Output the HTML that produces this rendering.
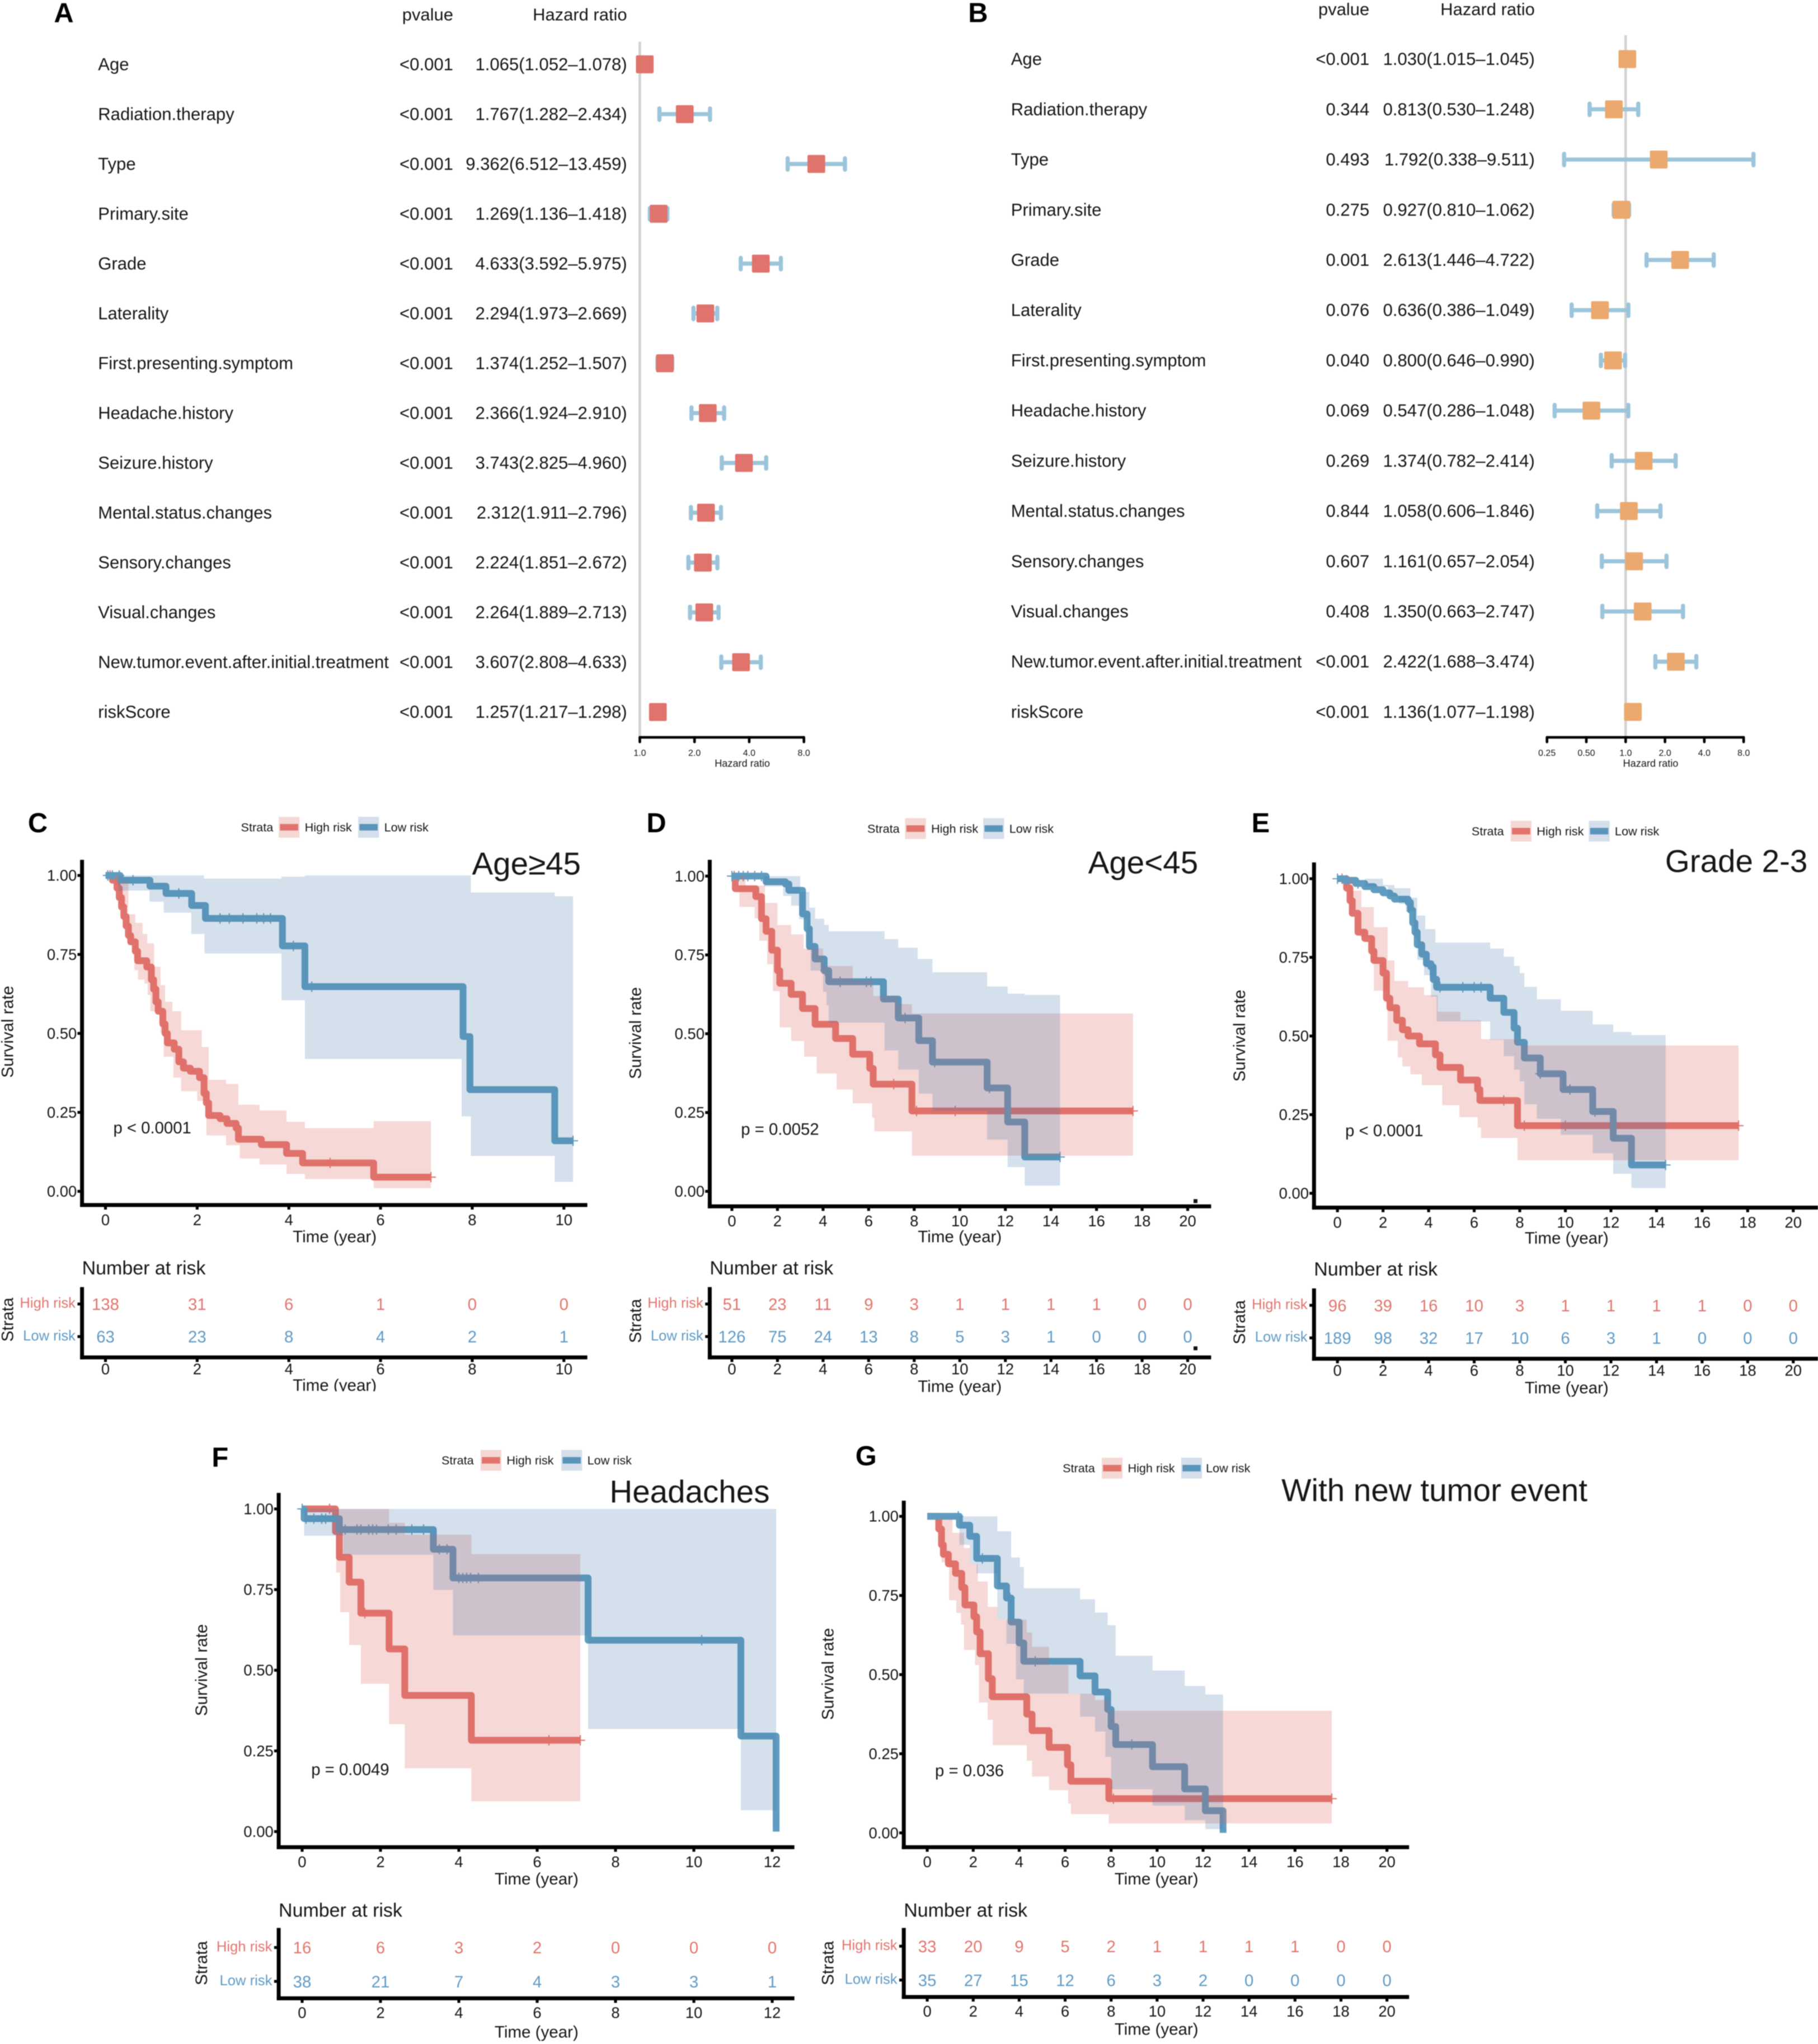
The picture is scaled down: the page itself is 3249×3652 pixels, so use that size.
<!DOCTYPE html>
<html lang="en">
<head>
<meta charset="utf-8">
<title>Forest plots and Kaplan-Meier survival curves</title>
<style>
html,body{margin:0;padding:0;background:#fff}
svg{display:block;filter:blur(.7px)}
text{font-family:"Liberation Sans",Arial,sans-serif;fill:#161616;dominant-baseline:central}
.letter{font-size:21px;font-weight:bold;fill:#000;text-anchor:middle}
.f{font-size:13.3px}
.r{text-anchor:end}
.m{text-anchor:middle}
.lg{font-size:9.3px}
.ttl{font-size:24.3px}
.pv{font-size:12.6px}
.al{font-size:12.7px;text-anchor:middle}
.nar{font-size:14.6px}
</style>
</head>
<body>
<svg id="figure" xmlns="http://www.w3.org/2000/svg" width="3249" height="3652" viewBox="0 0 1396 1569">
<rect x="0" y="0" width="1396" height="1569" fill="#fff"/>

<text class="letter" x="49" y="10">A</text>
<text class="f r" x="348" y="11">pvalue</text>
<text class="f r" x="481.5" y="11">Hazard ratio</text>
<g id="forestA"></g>

<text class="letter" x="751" y="10">B</text>
<text class="f r" x="1051.5" y="7">pvalue</text>
<text class="f r" x="1178.5" y="7">Hazard ratio</text>
<g id="forestB"></g>

<!-- Panel C -->
<text class="letter" x="29" y="632">C</text>
<g id="panelC"></g>
<text class="ttl r" x="446" y="663">Age≥45</text>
<text class="pv" x="87" y="866">p &lt; 0.0001</text>
<text class="al" x="257" y="949.5">Time (year)</text>
<text class="al" transform="translate(6 792) rotate(-90)">Survival rate</text>
<text class="nar" x="63" y="973.5">Number at risk</text>
<text class="al" transform="translate(6 1013) rotate(-90)">Strata</text>
<text class="al" x="257" y="1063.5">Time (year)</text>
<rect x="215" y="1068" width="85" height="10" fill="#fff"/>
<g>
<text class="lg" x="185" y="635">Strata</text>
<rect x="214" y="627" width="16" height="16" fill="#f5d8d4"/>
<rect x="215" y="632.5" width="14" height="5" fill="#e0736b"/>
<text class="lg" x="234" y="635">High risk</text>
<rect x="275" y="627" width="16" height="16" fill="#d4dfeb"/>
<rect x="276" y="632.5" width="14" height="5" fill="#5b94bb"/>
<text class="lg" x="295" y="635">Low risk</text>
</g>

<!-- Panel D -->
<text class="letter" x="504" y="632">D</text>
<g id="panelD"></g>
<text class="ttl r" x="920" y="662">Age&lt;45</text>
<text class="pv" x="569" y="867">p = 0.0052</text>
<text class="al" x="737" y="949.5">Time (year)</text>
<text class="al" transform="translate(488 793) rotate(-90)">Survival rate</text>
<text class="nar" x="545" y="973.5">Number at risk</text>
<text class="al" transform="translate(488 1014) rotate(-90)">Strata</text>
<text class="al" x="737" y="1064.5">Time (year)</text>
<rect x="916.5" y="920.5" width="3" height="3" fill="#111"/>
<rect x="916.5" y="1033.5" width="3" height="3" fill="#111"/>
<g>
<text class="lg" x="666" y="636">Strata</text>
<rect x="695" y="628" width="16" height="16" fill="#f5d8d4"/>
<rect x="696" y="633.5" width="14" height="5" fill="#e0736b"/>
<text class="lg" x="715" y="636">High risk</text>
<rect x="755" y="628" width="16" height="16" fill="#d4dfeb"/>
<rect x="756" y="633.5" width="14" height="5" fill="#5b94bb"/>
<text class="lg" x="775" y="636">Low risk</text>
</g>

<!-- Panel E -->
<text class="letter" x="968" y="632">E</text>
<g id="panelE"></g>
<text class="ttl r" x="1388" y="661">Grade 2-3</text>
<text class="pv" x="1033" y="868">p &lt; 0.0001</text>
<text class="al" x="1203" y="950.5">Time (year)</text>
<text class="al" transform="translate(952 795) rotate(-90)">Survival rate</text>
<text class="nar" x="1009" y="974.5">Number at risk</text>
<text class="al" transform="translate(952 1015) rotate(-90)">Strata</text>
<text class="al" x="1203" y="1065.5">Time (year)</text>
<g>
<text class="lg" x="1130" y="638">Strata</text>
<rect x="1160" y="630" width="16" height="16" fill="#f5d8d4"/>
<rect x="1161" y="635.5" width="14" height="5" fill="#e0736b"/>
<text class="lg" x="1180" y="638">High risk</text>
<rect x="1220" y="630" width="16" height="16" fill="#d4dfeb"/>
<rect x="1221" y="635.5" width="14" height="5" fill="#5b94bb"/>
<text class="lg" x="1240" y="638">Low risk</text>
</g>

<!-- Panel F -->
<text class="letter" x="169" y="1119">F</text>
<g id="panelF"></g>
<text class="ttl r" x="591" y="1145">Headaches</text>
<text class="pv" x="239" y="1358.5">p = 0.0049</text>
<text class="al" x="412" y="1442.5">Time (year)</text>
<text class="al" transform="translate(155 1282) rotate(-90)">Survival rate</text>
<text class="nar" x="214" y="1466.5">Number at risk</text>
<text class="al" transform="translate(155 1507) rotate(-90)">Strata</text>
<text class="al" x="412" y="1560">Time (year)</text>
<g>
<text class="lg" x="339" y="1121">Strata</text>
<rect x="369" y="1113" width="16" height="16" fill="#f5d8d4"/>
<rect x="370" y="1118.5" width="14" height="5" fill="#e0736b"/>
<text class="lg" x="389" y="1121">High risk</text>
<rect x="431" y="1113" width="16" height="16" fill="#d4dfeb"/>
<rect x="432" y="1118.5" width="14" height="5" fill="#5b94bb"/>
<text class="lg" x="451" y="1121">Low risk</text>
</g>

<!-- Panel G -->
<text class="letter" x="665" y="1118">G</text>
<g id="panelG"></g>
<text class="ttl" x="984" y="1144">With new tumor event</text>
<text class="pv" x="718" y="1359.5">p = 0.036</text>
<text class="al" x="888" y="1442.5">Time (year)</text>
<text class="al" transform="translate(636 1285) rotate(-90)">Survival rate</text>
<text class="nar" x="694" y="1466.5">Number at risk</text>
<text class="al" transform="translate(636 1507) rotate(-90)">Strata</text>
<text class="al" x="888" y="1558">Time (year)</text>
<g>
<text class="lg" x="816" y="1127">Strata</text>
<rect x="846" y="1119" width="16" height="16" fill="#f5d8d4"/>
<rect x="847" y="1124.5" width="14" height="5" fill="#e0736b"/>
<text class="lg" x="866" y="1127">High risk</text>
<rect x="907" y="1119" width="16" height="16" fill="#d4dfeb"/>
<rect x="908" y="1124.5" width="14" height="5" fill="#5b94bb"/>
<text class="lg" x="926" y="1127">Low risk</text>
</g>
</svg>

<script>
/* ---------- Forest plot data ---------- */
const forestVariables = ['Age','Radiation.therapy','Type','Primary.site','Grade','Laterality','First.presenting.symptom','Headache.history','Seizure.history','Mental.status.changes','Sensory.changes','Visual.changes','New.tumor.event.after.initial.treatment','riskScore'];

const forestAP = ['<0.001','<0.001','<0.001','<0.001','<0.001','<0.001','<0.001','<0.001','<0.001','<0.001','<0.001','<0.001','<0.001','<0.001'];
const forestAHR = [1.065,1.767,9.362,1.269,4.633,2.294,1.374,2.366,3.743,2.312,2.224,2.264,3.607,1.257];
const forestALow = [1.052,1.282,6.512,1.136,3.592,1.973,1.252,1.924,2.825,1.911,1.851,1.889,2.808,1.217];
const forestAHigh = [1.078,2.434,13.459,1.418,5.975,2.669,1.507,2.910,4.960,2.796,2.672,2.713,4.633,1.298];
const forestATicks = ['1.0','2.0','4.0','8.0'];

const forestBP = ['<0.001','0.344','0.493','0.275','0.001','0.076','0.040','0.069','0.269','0.844','0.607','0.408','<0.001','<0.001'];
const forestBHR = [1.030,0.813,1.792,0.927,2.613,0.636,0.800,0.547,1.374,1.058,1.161,1.350,2.422,1.136];
const forestBLow = [1.015,0.530,0.338,0.810,1.446,0.386,0.646,0.286,0.782,0.606,0.657,0.663,1.688,1.077];
const forestBHigh = [1.045,1.248,9.511,1.062,4.722,1.049,0.990,1.048,2.414,1.846,2.054,2.747,3.474,1.198];
const forestBTicks = ['0.25','0.50','1.0','2.0','4.0','8.0'];

/* ---------- Kaplan-Meier shared axis labels ---------- */
const survivalTicks = ['1.00','0.75','0.50','0.25','0.00'];

/* ---------- Panel C ---------- */
const cTimeTicks = [0,2,4,6,8,10];
const cRiskHigh = [138,31,6,1,0,0];
const cRiskLow = [63,23,8,4,2,1];
const cHighT = [0,.15,.25,.3,.35,.4,.45,.5,.55,.65,.7,.9,1,1.05,1.1,1.15,1.25,1.3,1.35,1.5,1.6,1.7,1.85,2.05,2.15,2.2,2.25,2.5,2.65,2.85,2.9,3.4,3.95,4.3,5.85,7.1];
const cHighS = [1,.985,.96,.93,.9,.87,.84,.81,.79,.76,.73,.71,.67,.64,.6,.57,.53,.5,.47,.45,.41,.39,.38,.36,.31,.28,.24,.23,.215,.2,.165,.148,.12,.09,.045,.045];
const cHighUpT = [0,.3,.5,.65,.81,.91,1.06,1.2,1.3,1.46,1.65,2.1,2.25,2.63,2.9,3.36,3.95,4.35,5.85,7.1];
const cHighUp = [1,.98,.877,.85,.815,.785,.711,.653,.6,.57,.51,.457,.353,.34,.274,.256,.22,.2,.222,.222];
const cHighLoT = [0,.2,.3,.49,.63,.71,.85,.92,.98,1.2,1.27,1.48,1.65,2,2.2,2.63,2.93,3.36,3.95,4.35,5.85,7.1];
const cHighLo = [1,.97,.9,.78,.7,.67,.658,.622,.57,.5,.426,.36,.317,.286,.177,.146,.104,.085,.055,.039,.01,.01];
const cHighCensor = [.1,4.9,7.1];
const cLowT = [0,.32,.97,1.32,1.88,2.18,3.86,4.35,7.8,7.95,9.8,10.2];
const cLowS = [1,.985,.966,.943,.905,.864,.777,.648,.49,.322,.16,.16];
const cLowUpT = [0,2.15,3.84,4.35,7.97,9.8,10.2];
const cLowUp = [1,.99,.996,1,.946,.934,.934];
const cLowLoT = [0,.28,.96,1.27,1.87,2.16,3.84,4.35,7.77,7.97,9.8,10.2];
const cLowLo = [1,.952,.917,.882,.815,.753,.605,.419,.237,.112,.03,.03];
const cLowCensor = [.05,.15,.3,.6,1.6,2.5,2.7,3,3.3,3.45,3.6,4.1,4.5,10.2];

/* ---------- Panel D ---------- */
const dTimeTicks = [0,2,4,6,8,10,12,14,16,18,20];
const dRiskHigh = [51,23,11,9,3,1,1,1,1,0,0];
const dRiskLow = [126,75,24,13,8,5,3,1,0,0,0];
const dHighT = [0,.15,1.05,1.3,1.5,1.75,2,2.1,2.6,3.1,3.65,4.55,5.3,6.05,6.2,7.9,17.6];
const dHighS = [1,.96,.935,.865,.825,.765,.7,.66,.625,.58,.53,.485,.435,.39,.34,.255,.255];
const dHighUpT = [0,.6,1.45,2,2.6,3.15,4,5.3,6.2,7.25,7.9,17.6];
const dHighUp = [1,.97,.915,.845,.815,.77,.715,.67,.62,.594,.564,.564];
const dHighLoT = [0,.33,1,1.2,1.55,1.8,2.1,2.6,3.17,3.72,4.6,5.3,6.15,6.25,7.9,17.6];
const dHighLo = [1,.902,.866,.795,.72,.635,.52,.477,.427,.374,.323,.279,.234,.19,.113,.113];
const dHighCensor = [.1,7.1,8.1,9.8,17.6];
const dLowT = [0,1.5,2.35,2.5,3.1,3.3,3.4,3.65,4.05,4.25,6.65,7.3,8.2,8.8,11.2,12.1,12.85,14.4];
const dLowS = [1,.982,.975,.955,.88,.833,.777,.737,.7,.665,.61,.55,.478,.41,.328,.22,.109,.109];
const dLowUpT = [0,3,3.4,3.65,4.05,4.25,6.7,7.3,8.15,8.8,11.2,12.1,12.85,14.4];
const dLowUp = [1,.95,.9,.865,.845,.825,.8,.773,.737,.695,.65,.627,.623,.623];
const dLowLoT = [0,1.4,2.25,2.6,2.95,3.3,3.45,4,4.15,4.25,6.7,7.3,8.2,8.8,11.2,12.1,12.85,14.4];
const dLowLo = [1,.967,.937,.906,.863,.765,.7,.633,.59,.535,.447,.386,.31,.255,.164,.077,.018,.018];
const dLowCensor = [0,.3,.5,.7,1,1.3,4.1,4.75,5.9,6.1,7.6,8.9,11.3,14.4];

/* ---------- Panel E ---------- */
const eTimeTicks = [0,2,4,6,8,10,12,14,16,18,20];
const eRiskHigh = [96,39,16,10,3,1,1,1,1,0,0];
const eRiskLow = [189,98,32,17,10,6,3,1,0,0,0];
const eHighT = [0,.4,.55,.65,.9,1.2,1.5,1.6,2,2.15,2.3,2.6,2.85,3.1,3.6,4.3,4.5,5.4,6.15,6.25,7.9,17.6];
const eHighS = [1,.97,.93,.89,.83,.81,.77,.74,.7,.62,.59,.55,.52,.5,.475,.44,.4,.36,.33,.295,.215,.215];
const eHighUpT = [0,.65,1.05,1.6,2.2,2.5,3.1,3.8,4.4,5.4,6.3,7.9,17.6];
const eHighUp = [1,.962,.91,.846,.74,.675,.655,.63,.577,.55,.49,.47,.47];
const eHighLoT = [0,.55,1,1.45,1.6,2.2,2.65,2.85,3.2,3.7,4.6,5.35,6.15,6.3,7.9,17.6];
const eHighLo = [1,.9,.815,.735,.644,.485,.432,.403,.378,.344,.28,.242,.209,.176,.105,.105];
const eHighCensor = [.2,7.3,8.2,10,17.6];
const eLowT = [0,.3,.8,1.2,1.6,2,2.3,2.5,3.1,3.2,3.3,3.4,3.5,3.7,3.9,4.1,4.2,4.35,6.7,7.3,7.75,7.9,8.2,8.9,9.9,11.2,12.1,12.9,14.4];
const eLowS = [1,.995,.985,.975,.965,.955,.945,.935,.925,.9,.86,.83,.79,.76,.73,.72,.68,.655,.62,.575,.525,.48,.43,.38,.33,.26,.175,.09,.09];
const eLowUpT = [0,2,2.5,3.2,3.5,3.85,4.3,6.7,7.3,7.75,8,8.2,8.75,9.8,11.2,12.1,12.9,14.4];
const eLowUp = [1,.98,.97,.94,.883,.84,.797,.778,.752,.723,.7,.656,.617,.58,.537,.513,.503,.503];
const eLowLoT = [0,1.2,2.2,2.7,3,3.35,3.5,3.8,4.1,4.35,6.7,7.3,7.75,8,8.2,8.75,9.8,11.2,12.1,12.9,14.4];
const eLowLo = [1,.975,.944,.92,.895,.815,.742,.693,.625,.546,.488,.436,.393,.356,.283,.237,.186,.127,.062,.017,.017];
const eLowCensor = [0,.4,.9,4.5,5.5,6,6.3,8.9,10.2,11.3,14.4];

/* ---------- Panel F ---------- */
const fTimeTicks = [0,2,4,6,8,10,12];
const fRiskHigh = [16,6,3,2,0,0,0];
const fRiskLow = [38,21,7,4,3,3,1];
const fHighT = [0,.85,.95,1.2,1.5,2.22,2.62,4.32,7.1];
const fHighS = [1,.93,.85,.773,.677,.566,.422,.283,.283];
const fHighUpT = [0,2.22,2.62,4.32,7.1];
const fHighUp = [1,.957,.92,.86,.86];
const fHighLoT = [0,.87,.97,1.2,1.5,2.22,2.62,4.32,7.1];
const fHighLo = [1,.803,.68,.578,.458,.333,.196,.094,.094];
const fHighCensor = [.7,1.6,6.3,7.1];
const fLowT = [0,.05,.95,3.35,3.85,7.3,11.2,12.1];
const fLowS = [1,.97,.936,.875,.786,.593,.296,0];
const fLowUpT = [0,12.1];
const fLowUp = [1,1];
const fLowLoT = [0,.05,1.05,3.35,3.85,7.3,11.2,12.1];
const fLowLo = [1,.917,.858,.749,.608,.318,.066,.066];
const fLowCensor = [0,.1,.3,.5,.6,1.1,1.4,1.5,1.7,1.8,1.9,2.2,2.4,2.8,3.1,3.5,3.7,4,4.1,4.2,4.3,4.5,10.2];

/* ---------- Panel G ---------- */
const gTimeTicks = [0,2,4,6,8,10,12,14,16,18,20];
const gRiskHigh = [33,20,9,5,2,1,1,1,1,0,0];
const gRiskLow = [35,27,15,12,6,3,2,0,0,0,0];
const gHighT = [0,.5,.62,.7,.92,1.23,1.5,1.64,2.03,2.15,2.3,2.66,2.83,4.33,4.56,5.3,6.1,6.25,7.9,17.6];
const gHighS = [1,.96,.91,.88,.85,.82,.775,.72,.683,.635,.566,.487,.43,.375,.323,.27,.215,.163,.108,.108];
const gHighUpT = [0,.7,1.1,1.6,1.85,2.2,2.63,3.05,4.33,4.56,5.3,6.15,7.3,7.9,17.6];
const gHighUp = [1,.99,.948,.9,.85,.794,.714,.674,.633,.588,.53,.44,.42,.386,.386];
const gHighLoT = [0,.62,.95,1.26,1.47,1.6,2.08,2.25,2.63,2.85,4.33,4.56,5.3,6.13,6.25,7.9,17.6];
const gHighLo = [1,.855,.735,.695,.658,.578,.53,.412,.357,.277,.228,.178,.135,.092,.059,.03,.03];
const gHighCensor = [8.1,17.6];
const gLowT = [0,1.4,1.85,2.15,3.05,3.45,3.65,4,4.2,6.65,7.3,7.85,8,8.2,9.8,11.2,12.1,12.87];
const gLowS = [1,.972,.937,.867,.78,.742,.666,.6,.542,.496,.445,.39,.336,.279,.209,.139,.07,0];
const gLowUpT = [0,3.05,3.65,4.03,4.2,6.65,7.3,7.85,8.2,9.8,11.2,12.1,12.87];
const gLowUp = [1,.953,.87,.84,.773,.738,.696,.656,.56,.513,.464,.437,.437];
const gLowLoT = [0,1.4,1.85,2.15,3.05,3.45,3.86,4.2,6.65,7.3,7.75,8,9.8,11.2,12.1,12.87];
const gLowLo = [1,.91,.85,.82,.674,.597,.485,.44,.367,.32,.24,.138,.086,.04,.012,.012];
const gLowCensor = [1.35,2.4,3.6,4.7,8.9];

/* ---------- Drawing helpers ---------- */
const NS = 'http://www.w3.org/2000/svg';
const HIGH_LINE = '#e1746e';
const LOW_LINE = '#609cbf';
const HIGH_TEXT = '#e2746c';
const LOW_TEXT = '#5f9ac6';

function shape(parent, tag, attrs, name) {
  const el = document.createElementNS(NS, tag);
  for (const k in attrs) el.setAttribute(k, attrs[k]);
  
  
  parent.appendChild(el);
  return el;
}
function label(parent, str, x, y, size, anchor, color, name) {
  const el = document.createElementNS(NS, 'text');
  el.setAttribute('x', x);
  el.setAttribute('y', y);
  el.setAttribute('font-size', size);
  el.setAttribute('text-anchor', anchor);
  el.style.fontSize = size + 'px';
  if (color) el.style.fill = color;
  el.textContent = str;
  
  
  parent.appendChild(el);
  return el;
}

/* ---------- Forest plots ---------- */
function drawForest(g, o) {
  const x = v => o.oneX + o.perDoubling * Math.log2(v);
  const y = i => o.firstY + o.rowStep * i;
  shape(g, 'line', {x1:x(1),x2:x(1),y1:o.refTop,y2:566,stroke:'#d2d2d2','stroke-width':2}, 'reference-line');
  forestVariables.forEach((v, i) => {
    label(g, v, o.labelX, y(i), 13.35, 'start', null, 'variable-label');
    label(g, o.p[i], o.pX, y(i), 13.35, 'end', null, 'p-value');
    const txt = o.hr[i].toFixed(3) + '(' + o.lo[i].toFixed(3) + '–' + o.hi[i].toFixed(3) + ')';
    label(g, txt, o.hrX, y(i), 13.35, 'end', null, 'hazard-ratio-value');
    shape(g, 'line', {x1:x(o.lo[i]),x2:x(o.hi[i]),y1:y(i),y2:y(i),stroke:'#9cc5dc','stroke-width':3.2}, 'ci-line');
    shape(g, 'rect', {x:x(o.lo[i])-1.6,y:y(i)-6,width:3.2,height:12,rx:1.6,fill:'#9cc5dc'}, 'ci-cap-low');
    shape(g, 'rect', {x:x(o.hi[i])-1.6,y:y(i)-6,width:3.2,height:12,rx:1.6,fill:'#9cc5dc'}, 'ci-cap-high');
    shape(g, 'rect', {x:x(o.hr[i])-6.8,y:y(i)-6.9,width:13.6,height:13.8,rx:1,fill:o.box}, 'hazard-ratio-box');
  });
  const tickVals = o.ticks.map(Number);
  shape(g, 'line', {x1:x(tickVals[0]),x2:x(tickVals[tickVals.length-1]),y1:566,y2:566,stroke:'#000','stroke-width':2,'stroke-linecap':'round'}, 'hazard-axis-line');
  tickVals.forEach((t, i) => {
    shape(g, 'line', {x1:x(t),x2:x(t),y1:566,y2:569.5,stroke:'#000','stroke-width':2,'stroke-linecap':'round'}, 'hazard-axis-tick');
    label(g, o.ticks[i], x(t), 578, 6.9, 'middle', null, 'hazard-axis-label');
  });
  label(g, 'Hazard ratio', o.axisTitleX, 586, 7.8, 'middle', null, 'hazard-axis-title');
}
drawForest(document.getElementById('forestA'), {oneX:491.3,perDoubling:42,firstY:49.3,rowStep:38.25,labelX:75.3,pX:348,hrX:481.5,refTop:32,box:'#e0736b',p:forestAP,hr:forestAHR,lo:forestALow,hi:forestAHigh,ticks:forestATicks,axisTitleX:570});
drawForest(document.getElementById('forestB'), {oneX:1248.3,perDoubling:30.2,firstY:45.3,rowStep:38.55,labelX:776.3,pX:1051.5,hrX:1178.5,refTop:27,box:'#eba96f',p:forestBP,hr:forestBHR,lo:forestBLow,hi:forestBHigh,ticks:forestBTicks,axisTitleX:1267.5});

/* ---------- Kaplan-Meier panels ---------- */
function stepForward(T, S, x, y) {
  let d = 'M' + x(T[0]) + ' ' + y(S[0]);
  for (let i = 1; i < T.length; i++) d += 'H' + x(T[i]) + 'V' + y(S[i]);
  return d;
}
function stepBackward(T, S, x, y) {
  let d = '';
  for (let i = T.length - 1; i >= 1; i--) d += 'V' + y(S[i - 1]) + 'H' + x(T[i - 1]);
  return d;
}
function survAt(T, S, t) {
  let v = S[0];
  for (let i = 0; i < T.length; i++) if (T[i] <= t) v = S[i];
  return v;
}
function drawCurve(g, T, S, C, color, x, y, name) {
  shape(g, 'path', {d:stepForward(T, S, x, y),fill:'none',stroke:color,'stroke-width':5.2,'stroke-linejoin':'round'}, name + '-curve');
  C.forEach(t => {
    const s = survAt(T, S, t);
    shape(g, 'path', {d:'M' + x(t) + ' ' + (y(s)-4) + 'V' + (y(s)+4) + 'M' + (x(t)-3.8) + ' ' + y(s) + 'H' + (x(t)+3.8),fill:'none',stroke:color,'stroke-width':.9}, name + '-censor-mark');
  });
}
function drawBand(g, UT, U, LT, L, fill, opacity, x, y, name) {
  const d = stepForward(UT, U, x, y) + 'V' + y(L[L.length - 1]) + stepBackward(LT, L, x, y) + 'Z';
  shape(g, 'path', {d:d,fill:fill,'fill-opacity':opacity,stroke:'none'}, name + '-confidence-band');
}
function drawPanel(o) {
  const g = document.getElementById(o.id);
  const x = t => o.x0 + o.perYear * t;
  const y = s => o.yZero + (o.yOne - o.yZero) * s;
  drawCurve(g, o.hT, o.hS, o.hC, HIGH_LINE, x, y, 'high-risk');
  drawCurve(g, o.lT, o.lS, o.lC, LOW_LINE, x, y, 'low-risk');
  drawBand(g, o.hUT, o.hU, o.hLT, o.hL, 'rgb(220,105,95)', .26, x, y, 'high-risk');
  drawBand(g, o.lUT, o.lU, o.lLT, o.lL, 'rgb(70,120,175)', .23, x, y, 'low-risk');

  shape(g, 'line', {x1:o.axisX,x2:o.axisX,y1:o.axisTop,y2:o.axisBottom+1.5,stroke:'#000','stroke-width':3}, 'y-axis-line');
  shape(g, 'line', {x1:o.axisX-1.5,x2:o.axisRight,y1:o.axisBottom,y2:o.axisBottom,stroke:'#000','stroke-width':3}, 'x-axis-line');
  survivalTicks.forEach(lbl => {
    const yy = y(Number(lbl));
    shape(g, 'line', {x1:o.axisX-3.5,x2:o.axisX,y1:yy,y2:yy,stroke:'#000','stroke-width':2.2}, 'y-axis-tick');
    label(g, lbl, o.axisX-4, yy, 11.8, 'end', null, 'y-axis-label');
  });
  o.ticks.forEach((t, i) => {
    shape(g, 'line', {x1:x(t),x2:x(t),y1:o.axisBottom,y2:o.axisBottom+3.5,stroke:'#000','stroke-width':2.2}, 'x-axis-tick');
    label(g, t, x(t), o.axisBottom+11.3, 11.8, 'middle', null, 'x-axis-label');
    label(g, o.rHigh[i], x(t), o.highY+.5, 12.6, 'middle', HIGH_TEXT, 'risk-count-high');
    label(g, o.rLow[i], x(t), o.lowY+.5, 12.6, 'middle', LOW_TEXT, 'risk-count-low');
    shape(g, 'line', {x1:x(t),x2:x(t),y1:o.tableBottom,y2:o.tableBottom+3.5,stroke:'#000','stroke-width':2.2}, 'risk-x-axis-tick');
    label(g, t, x(t), o.tableBottom+o.tableLabelGap, 11.8, 'middle', null, 'risk-x-axis-label');
  });
  shape(g, 'line', {x1:o.axisX,x2:o.axisX,y1:o.tableTop,y2:o.tableBottom+1.5,stroke:'#000','stroke-width':3}, 'risk-y-axis-line');
  shape(g, 'line', {x1:o.axisX-1.5,x2:o.axisRight,y1:o.tableBottom,y2:o.tableBottom,stroke:'#000','stroke-width':3}, 'risk-x-axis-line');
  shape(g, 'line', {x1:o.axisX-3.5,x2:o.axisX,y1:o.highY,y2:o.highY,stroke:'#000','stroke-width':2.2}, 'risk-y-tick-high');
  shape(g, 'line', {x1:o.axisX-3.5,x2:o.axisX,y1:o.lowY,y2:o.lowY,stroke:'#000','stroke-width':2.2}, 'risk-y-tick-low');
  label(g, 'High risk', o.axisX-5, o.highY-.5, 11, 'end', HIGH_TEXT, 'risk-row-label-high');
  label(g, 'Low risk', o.axisX-5, o.lowY-.5, 11, 'end', LOW_TEXT, 'risk-row-label-low');
}

drawPanel({id:'panelC',x0:81,perYear:35.2,yOne:672,yZero:914.5,axisX:63,axisTop:660,axisBottom:925,axisRight:451,tableTop:988,tableBottom:1042,tableLabelGap:9,highY:1001,lowY:1026,ticks:cTimeTicks,rHigh:cRiskHigh,rLow:cRiskLow,hT:cHighT,hS:cHighS,hUT:cHighUpT,hU:cHighUp,hLT:cHighLoT,hL:cHighLo,hC:cHighCensor,lT:cLowT,lS:cLowS,lUT:cLowUpT,lU:cLowUp,lLT:cLowLoT,lL:cLowLo,lC:cLowCensor});
drawPanel({id:'panelD',x0:562,perYear:17.5,yOne:672.5,yZero:914.5,axisX:545,axisTop:660,axisBottom:926,axisRight:930,tableTop:988,tableBottom:1042,tableLabelGap:9,highY:1001,lowY:1026,ticks:dTimeTicks,rHigh:dRiskHigh,rLow:dRiskLow,hT:dHighT,hS:dHighS,hUT:dHighUpT,hU:dHighUp,hLT:dHighLoT,hL:dHighLo,hC:dHighCensor,lT:dLowT,lS:dLowS,lUT:dLowUpT,lU:dLowUp,lLT:dLowLoT,lL:dLowLo,lC:dLowCensor});
drawPanel({id:'panelE',x0:1027,perYear:17.5,yOne:674.5,yZero:916,axisX:1009,axisTop:662,axisBottom:927,axisRight:1396,tableTop:989,tableBottom:1043,tableLabelGap:9,highY:1002,lowY:1027,ticks:eTimeTicks,rHigh:eRiskHigh,rLow:eRiskLow,hT:eHighT,hS:eHighS,hUT:eHighUpT,hU:eHighUp,hLT:eHighLoT,hL:eHighLo,hC:eHighCensor,lT:eLowT,lS:eLowS,lUT:eLowUpT,lU:eLowUp,lLT:eLowLoT,lL:eLowLo,lC:eLowCensor});
drawPanel({id:'panelF',x0:232,perYear:30.08,yOne:1158.3,yZero:1406,axisX:214,axisTop:1146,axisBottom:1418,axisRight:610,tableTop:1480,tableBottom:1534,tableLabelGap:11,highY:1495,lowY:1521,ticks:fTimeTicks,rHigh:fRiskHigh,rLow:fRiskLow,hT:fHighT,hS:fHighS,hUT:fHighUpT,hU:fHighUp,hLT:fHighLoT,hL:fHighLo,hC:fHighCensor,lT:fLowT,lS:fLowS,lUT:fLowUpT,lU:fLowUp,lLT:fLowLoT,lL:fLowLo,lC:fLowCensor});
drawPanel({id:'panelG',x0:712,perYear:17.65,yOne:1164,yZero:1407,axisX:694,axisTop:1152,axisBottom:1418,axisRight:1082,tableTop:1480,tableBottom:1533,tableLabelGap:11,highY:1494,lowY:1520,ticks:gTimeTicks,rHigh:gRiskHigh,rLow:gRiskLow,hT:gHighT,hS:gHighS,hUT:gHighUpT,hU:gHighUp,hLT:gHighLoT,hL:gHighLo,hC:gHighCensor,lT:gLowT,lS:gLowS,lUT:gLowUpT,lU:gLowUp,lLT:gLowLoT,lL:gLowLo,lC:gLowCensor});
</script>
</body>
</html>
